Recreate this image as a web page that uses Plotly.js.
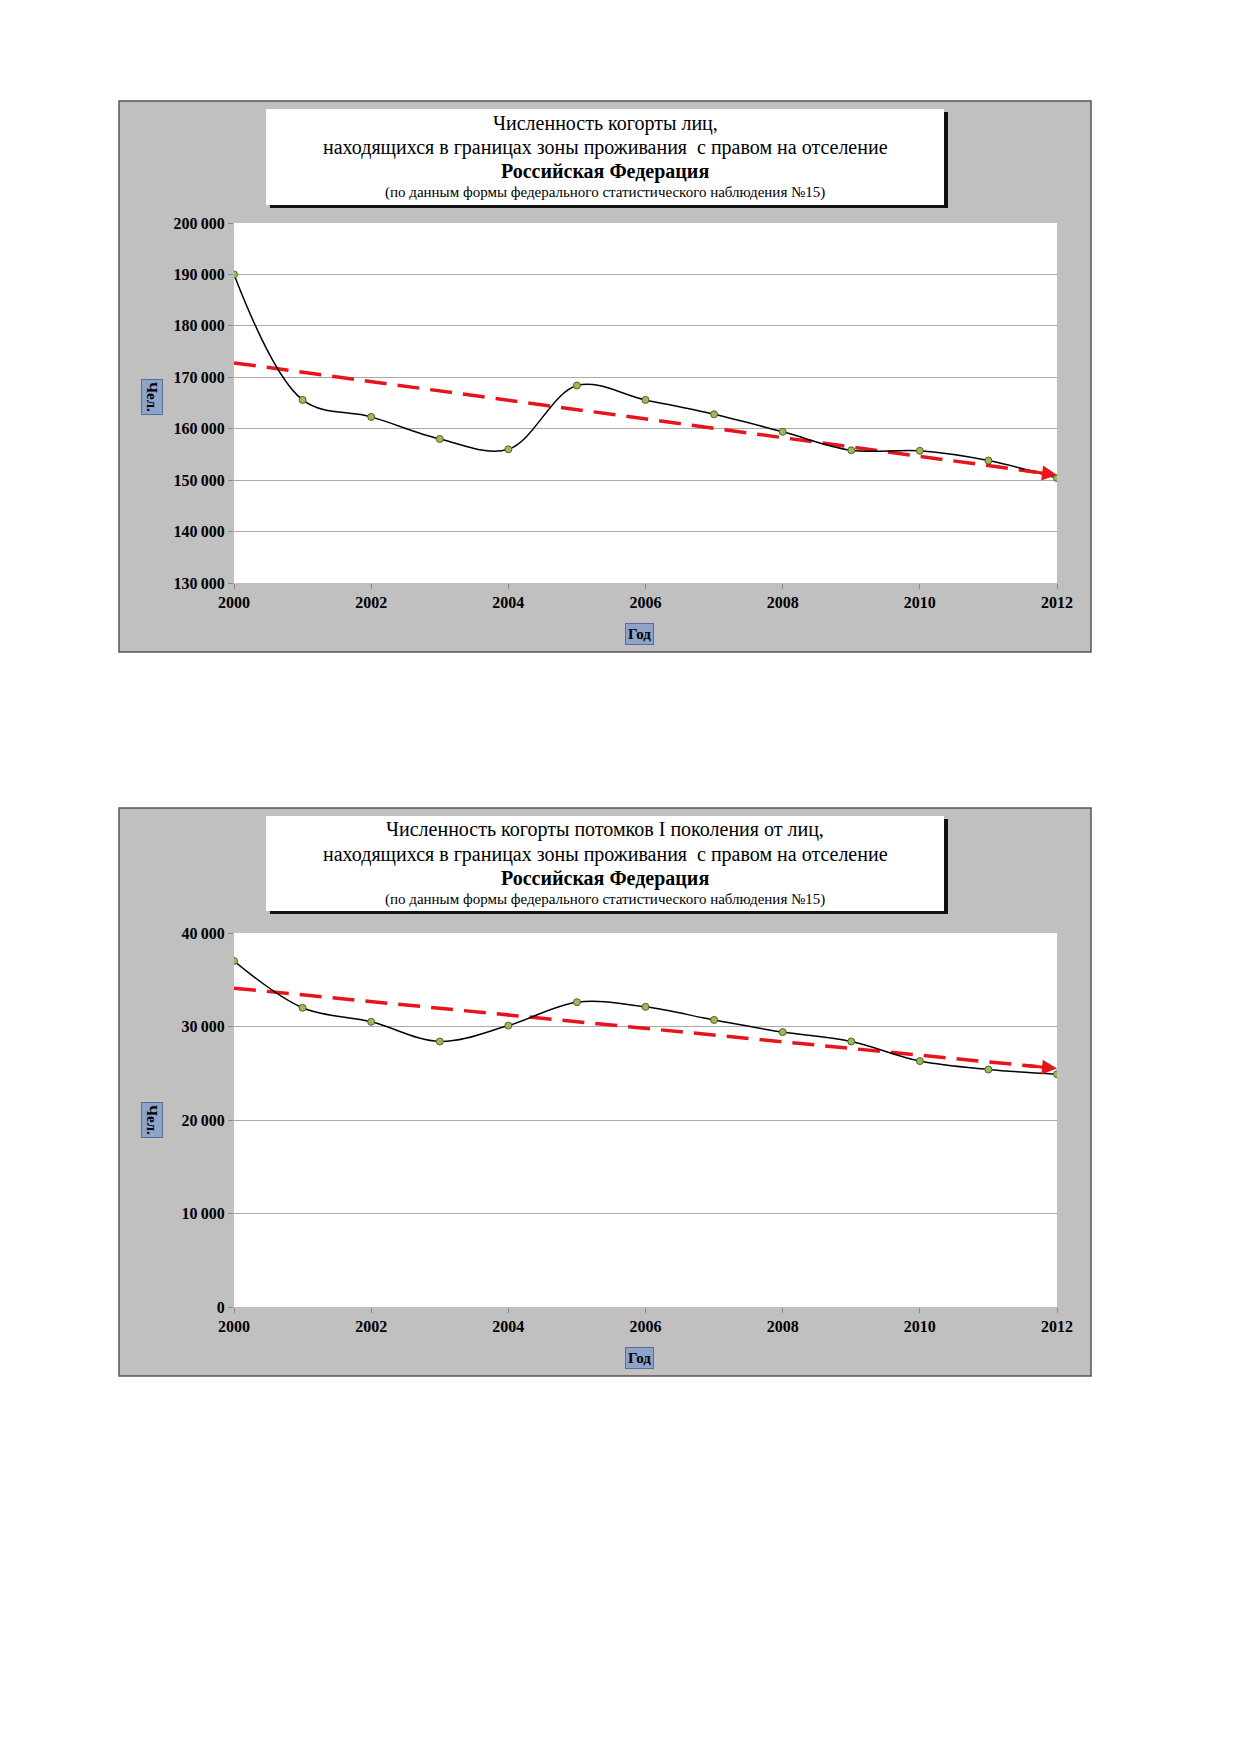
<!DOCTYPE html>
<html><head><meta charset="utf-8">
<script src="https://cdn.plot.ly/plotly-3.0.1.min.js"></script>
<style>body{margin:0;background:#fff}</style></head>
<body><div id="c" style="width:1239px;height:1752px"></div>
<script>
const years=[2000,2001,2002,2003,2004,2005,2006,2007,2008,2009,2010,2011,2012];
const cohort1=[190000,165600,162300,158000,156000,168400,165600,162800,159400,155800,155700,153800,150400];
const trend1=[172800,151000];
const cohort2=[37000,32000,30500,28400,30100,32600,32100,30700,29400,28400,26300,25400,24900];
const trend2=[34100,25500];
const xticks=[2000,2002,2004,2006,2008,2010,2012];
const yticks1=[130000,140000,150000,160000,170000,180000,190000,200000];
const yticks2=[0,10000,20000,30000,40000];
const fmt=v=>v===0?'0':String(v).replace(/\B(?=(\d{3})+(?!\d))/g,'\u2009');
const W=1239,H=1752;
const px=x=>x/W, py=y=>1-y/H;
const tf={family:'Liberation Serif',size:16,color:'#000',weight:'bold'};
function tr(x,y,t,xa,ya){return [
 {x:[years[0],years[years.length-1]-0.3],y:[t[0],t[0]+(t[1]-t[0])*(11.7/12)],xaxis:xa,yaxis:ya,mode:'lines',line:{color:'#e8141b',width:3.5,dash:'22px,11px'},hoverinfo:'skip'},
 {x:x,y:y,xaxis:xa,yaxis:ya,mode:'lines+markers',line:{shape:'spline',color:'#000',width:1.5},marker:{size:7,color:'#9bbb59',line:{color:'#4f6228',width:1}},hoverinfo:'skip'}];}
const data=[...tr(years,cohort1,trend1,'x','y'),...tr(years,cohort2,trend2,'x2','y2')];
function ax(d,anchor){return {domain:d,anchor:anchor,showgrid:false,zeroline:false,showline:false,ticks:'outside',ticklen:5,tickcolor:'#888',tickfont:tf,fixedrange:true};}
const PL=234,PR=1057;
const layout={width:W,height:H,margin:{l:0,r:0,t:0,b:0},paper_bgcolor:'#fff',plot_bgcolor:'#fff',showlegend:false,
 xaxis:Object.assign(ax([px(PL),px(PR)],'y'),{range:[2000,2012],tickvals:xticks,ticktext:xticks.map(String)}),
 yaxis:Object.assign(ax([py(583),py(223)],'x'),{range:[130000,200000],tickvals:yticks1,ticktext:yticks1.map(fmt),showgrid:true,gridcolor:'#aaa'}),
 xaxis2:Object.assign(ax([px(PL),px(PR)],'y2'),{range:[2000,2012],tickvals:xticks,ticktext:xticks.map(String)}),
 yaxis2:Object.assign(ax([py(1307),py(933)],'x2'),{range:[0,40000],tickvals:yticks2,ticktext:yticks2.map(fmt),showgrid:true,gridcolor:'#aaa'}),
 shapes:[],annotations:[]};
function panel(top,bot,tbTop,tbBot,pTop,pBot,chOff,t){
 const S=layout.shapes,A=layout.annotations;
 S.push({type:'rect',xref:'paper',yref:'paper',x0:px(119),x1:px(1091),y0:py(bot),y1:py(top),fillcolor:'#c0c0c0',line:{color:'#555',width:1.5},layer:'below'});
 S.push({type:'rect',xref:'paper',yref:'paper',x0:px(PL),x1:px(PR),y0:py(pBot),y1:py(pTop),fillcolor:'#fff',line:{width:0},layer:'below'});
 S.push({type:'rect',xref:'paper',yref:'paper',x0:px(270),x1:px(948),y0:py(tbBot+3),y1:py(tbTop+3),fillcolor:'#111',line:{width:0},layer:'below'});
 S.push({type:'rect',xref:'paper',yref:'paper',x0:px(266),x1:px(944),y0:py(tbBot),y1:py(tbTop),fillcolor:'#fff',line:{width:0},layer:'below'});
 const c=px(605);
 const lines=[[t[0],20,'normal',tbTop+14],[t[1],20,'normal',tbTop+38],['Российская Федерация',20,'bold',tbTop+62],['(по данным формы федерального статистического наблюдения №15)',15,'normal',tbTop+83]];
 lines.forEach(l=>A.push({xref:'paper',yref:'paper',x:c,y:py(l[3]),yanchor:'middle',text:l[0],showarrow:false,font:{family:'Liberation Serif',size:l[1],weight:l[2],color:'#000'}}));
 A.push({xref:'paper',yref:'paper',x:px(640),y:py(bot-18),yanchor:'middle',text:'<b>Год</b>',showarrow:false,bgcolor:'#8fa2c9',bordercolor:'#5a6d96',borderwidth:1,borderpad:2,font:{family:'Liberation Serif',size:15,color:'#000'}});
 A.push({xref:'paper',yref:'paper',x:px(141),y:py((pTop+pBot)/2+chOff),yanchor:'middle',text:'<b>Чел.</b>',textangle:90,showarrow:false,bgcolor:'#8fa2c9',bordercolor:'#5a6d96',borderwidth:1,borderpad:2,font:{family:'Liberation Serif',size:15,color:'#000'}});
}
panel(101,652,109,205,223,583,-6,['Численность когорты лиц,','находящихся в границах зоны проживания  с правом на отселение']);
panel(808,1376,816,911,933,1307,0,['Численность когорты потомков I поколения от лиц,','находящихся в границах зоны проживания  с правом на отселение']);
function arrow(xa,ya,t){layout.annotations.push({xref:xa,yref:ya,axref:xa,ayref:ya,x:2012,y:t[1],ax:2011.5,ay:t[0]+(t[1]-t[0])*(11.5/12),text:'',showarrow:true,arrowhead:2,arrowsize:1,arrowwidth:3,arrowcolor:'#e8141b'});}
arrow('x','y',trend1);arrow('x2','y2',trend2);
Plotly.newPlot('c',data,layout,{staticPlot:true});
</script></body></html>
